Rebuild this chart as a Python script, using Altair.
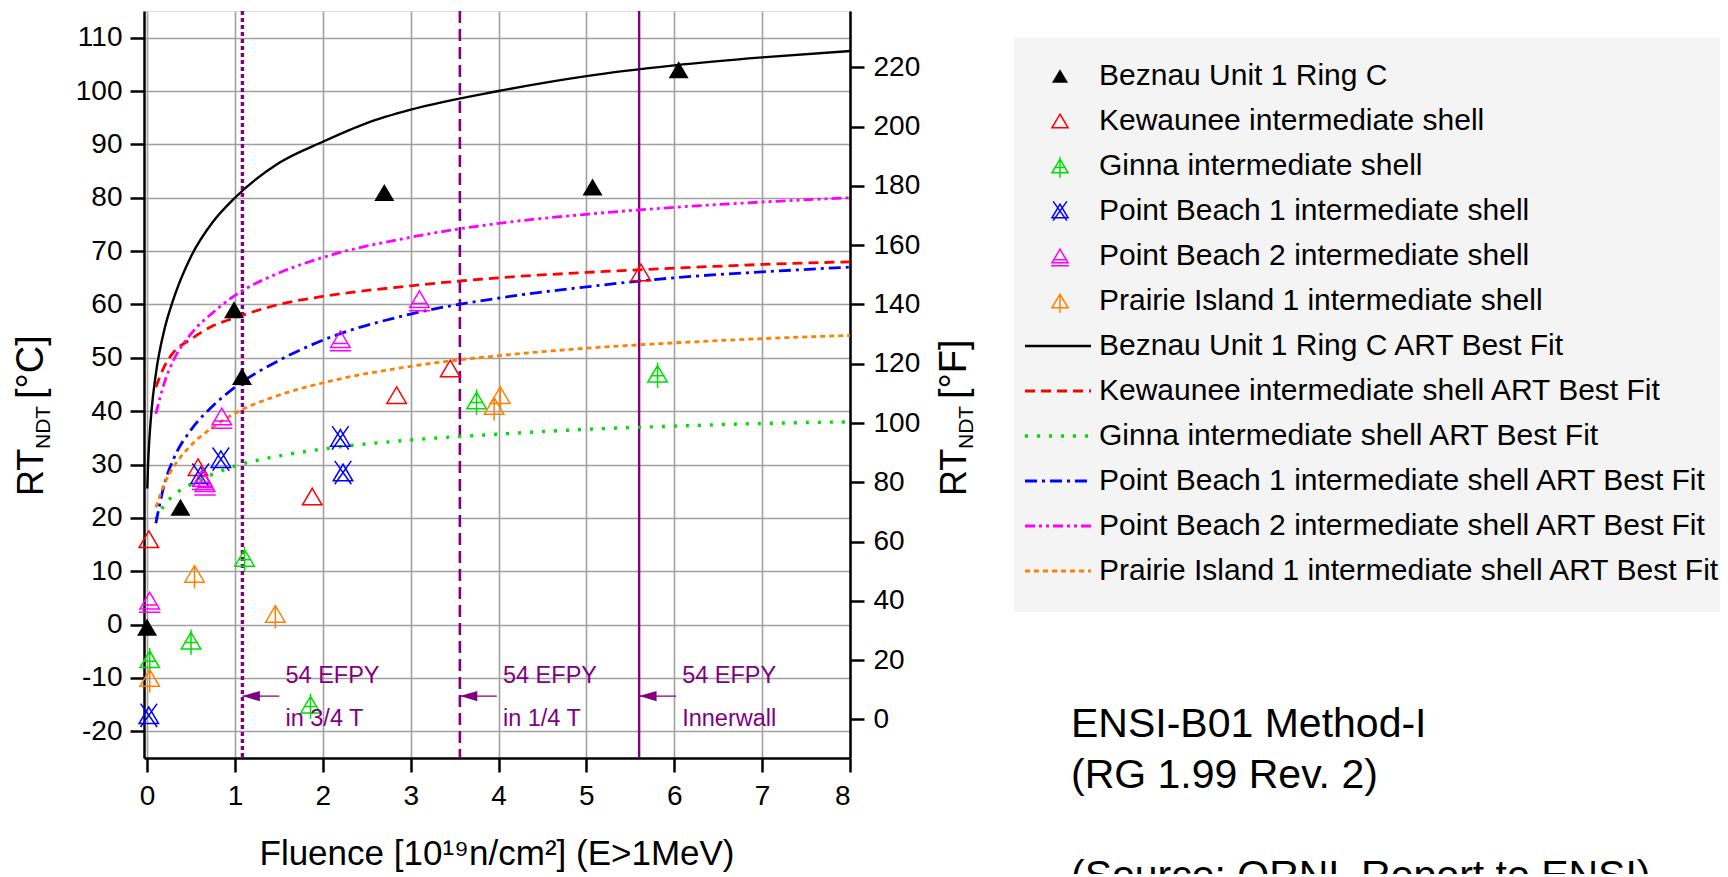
import altair as alt
import pandas as pd

FONT = "Liberation Sans"
PURPLE = "#800080"

# ---------------- data ----------------
series_names = [
    "Beznau Unit 1 Ring C",
    "Kewaunee intermediate shell",
    "Ginna intermediate shell",
    "Point Beach 1 intermediate shell",
    "Point Beach 2 intermediate shell",
    "Prairie Island 1 intermediate shell",
]
series_colors = ["#000000", "#ff0000", "#00dd00", "#0000ff", "#ff00ff", "#ff8000"]

beznau_x = [0.0, 0.38, 0.99, 1.08, 2.70, 5.07, 6.05]
beznau_c = [-0.5, 22, 59, 46.5, 81, 82, 104]
kewaunee_x = [0.02, 0.58, 1.88, 2.84, 3.45, 5.62]
kewaunee_c = [16, 29.5, 24, 43, 48, 66]
ginna_x = [0.03, 0.50, 1.11, 1.86, 3.75, 5.81]
ginna_c = [-6.5, -3, 12.5, -15, 42, 47]
pb1_x = [0.02, 0.61, 0.84, 2.20, 2.23]
pb1_c = [-17, 28, 31, 35, 28.5]
pb2_x = [0.03, 0.63, 0.66, 0.85, 2.20, 3.10]
pb2_c = [4.5, 27.5, 26.5, 39, 53.5, 61]
pi1_x = [0.03, 0.54, 1.46, 3.95, 4.02]
pi1_c = [-10, 9.5, 2, 41, 43]

# best-fit curves (read at these fluence values)
fit_x_beznau = [0.003, 0.01, 0.02, 0.05, 0.1, 0.2, 0.3, 0.5, 0.75, 1, 1.5, 2, 2.5, 3, 4, 5, 6, 7, 8]
fit_beznau = [25.5, 29.5, 33, 40, 47, 55.5, 61, 69, 75.5, 80, 86.5, 90.5, 94, 96.5, 100, 102.8, 104.8, 106.3, 107.5]
fit_x = [0.1, 0.2, 0.3, 0.5, 0.75, 1, 1.5, 2, 3, 4, 5, 6, 7, 8]
fit_kewaunee = [44.5, 48.5, 51, 53.5, 56, 57.5, 60, 61.5, 63.5, 65, 66, 66.8, 67.5, 68]
fit_ginna = [19.7, 22.5, 24.2, 26.3, 28.2, 29.7, 31.6, 32.9, 34.6, 35.7, 36.6, 37.2, 37.7, 38]
fit_pb1 = [19, 26.5, 31, 36.5, 41, 44.5, 49.5, 53.3, 58.2, 61.2, 63.3, 65, 66.1, 67]
fit_pb2 = [39.5, 45.5, 49.5, 54.5, 58.5, 61.7, 65.9, 68.8, 72.6, 75.2, 76.9, 78.2, 79.2, 80]
fit_pi1 = [22, 26.5, 29.5, 33.6, 37, 39.6, 43, 45.3, 48.4, 50.4, 51.8, 52.8, 53.6, 54.2]

fit_suffix = " ART Best Fit"

vline_x = [1.085, 3.56, 5.6]
vline_top = ["54 EFPY", "54 EFPY", "54 EFPY"]
vline_bottom = ["in 3/4 T", "in 1/4 T", "Innerwall"]

x_ticks = [0, 1, 2, 3, 4, 5, 6, 7, 8]
c_ticks = [-20, -10, 0, 10, 20, 30, 40, 50, 60, 70, 80, 90, 100, 110]
f_ticks = [0, 20, 40, 60, 80, 100, 120, 140, 160, 180, 200, 220]

note_lines = ["ENSI-B01 Method-I", "(RG 1.99 Rev. 2)"]
source_line = "(Source: ORNL  Report to ENSI)"

# ---------------- styling ----------------
W, H = 706, 747
X_DOM = [-0.035, 8]
C_DOM = [-25, 115]
F_DOM = [C_DOM[0] * 9 / 5 + 32, C_DOM[1] * 9 / 5 + 32]

TRI = "M0,-0.85L1,0.85L-1,0.85Z"
shapes = [
    TRI,
    TRI,
    TRI + "M0,-1.15L0,1.45M-0.7,0.2L0.7,0.2",
    TRI + "M-0.85,-1.2L0.85,1.2M0.85,-1.2L-0.85,1.2",
    TRI + "M-0.7,0.45L0.7,0.45M-1.1,1.2L1.1,1.2",
    TRI + "M0,-0.85L0,1.5",
]
dashes = [None, [10, 6], [3, 9], [12, 5, 3, 5], [10, 4, 3, 4, 3, 4], [5, 4]]
line_widths = [2.4, 2.8, 3.4, 2.8, 2.8, 2.8]
vline_dash = [[4, 3], [12, 6], None]
vline_width = [3.4, 2.6, 2.4]

xs = alt.Scale(domain=X_DOM, nice=False, zero=False)
cs = alt.Scale(domain=C_DOM, nice=False, zero=False)

axis_common = dict(
    labelFont=FONT, labelFontSize=28, labelColor="black",
    tickSize=14, tickWidth=2.5, tickColor="black",
    domainColor="black", domainWidth=2.5,
    gridColor="#a0a0a0", gridWidth=1.6, title=None,
    labelExpr="'' + datum.value",
)

layers = []

# axes + grid (carried by an invisible layer)
axis_df = pd.DataFrame({"x": [X_DOM[0], X_DOM[1]], "c": [C_DOM[0], C_DOM[1]]})
layers.append(
    alt.Chart(axis_df).mark_point(opacity=0).encode(
        x=alt.X("x:Q", scale=xs, axis=alt.Axis(values=x_ticks, grid=True, labelPadding=10, **axis_common)),
        y=alt.Y("c:Q", scale=cs, axis=alt.Axis(values=c_ticks, grid=True, labelPadding=8, **axis_common)),
    )
)

# vertical EFPY lines
for vx, dsh, lw in zip(vline_x, vline_dash, vline_width):
    kw = dict(color=PURPLE, strokeWidth=lw)
    if dsh:
        kw["strokeDash"] = dsh
    layers.append(
        alt.Chart(pd.DataFrame({"x": [vx]})).mark_rule(**kw).encode(x=alt.X("x:Q", scale=xs))
    )

# fit curves
fit_sets = [
    (fit_x_beznau, fit_beznau), (fit_x, fit_kewaunee), (fit_x, fit_ginna),
    (fit_x, fit_pb1), (fit_x, fit_pb2), (fit_x, fit_pi1),
]
for i, (fx, fy) in enumerate(fit_sets):
    kw = dict(color=series_colors[i], strokeWidth=line_widths[i], interpolate="monotone")
    if dashes[i]:
        kw["strokeDash"] = dashes[i]
    df = pd.DataFrame({"x": fx, "c": fy})
    layers.append(
        alt.Chart(df).mark_line(**kw).encode(
            x=alt.X("x:Q", scale=xs), y=alt.Y("c:Q", scale=cs), order="x:Q"
        )
    )

# measured points
pt_x = [beznau_x, kewaunee_x, ginna_x, pb1_x, pb2_x, pi1_x]
pt_c = [beznau_c, kewaunee_c, ginna_c, pb1_c, pb2_c, pi1_c]
rows = []
for name, px, pc in zip(series_names, pt_x, pt_c):
    for a, b in zip(px, pc):
        rows.append({"series": name, "x": a, "c": b})
pts = pd.DataFrame(rows)

layers.append(
    alt.Chart(pts[pts.series == series_names[0]]).mark_point(
        shape=TRI, filled=True, color="black", size=400, opacity=1
    ).encode(x=alt.X("x:Q", scale=xs), y=alt.Y("c:Q", scale=cs))
)
layers.append(
    alt.Chart(pts[pts.series != series_names[0]]).mark_point(
        filled=False, size=380, strokeWidth=1.5, opacity=1
    ).encode(
        x=alt.X("x:Q", scale=xs),
        y=alt.Y("c:Q", scale=cs),
        shape=alt.Shape("series:N", scale=alt.Scale(domain=series_names, range=shapes), legend=None),
        color=alt.Color("series:N", scale=alt.Scale(domain=series_names, range=series_colors), legend=None),
    )
)

# EFPY annotations
ann = pd.DataFrame({
    "x": vline_x,
    "xt": [v + 0.49 for v in vline_x],
    "xa": [v + 0.42 for v in vline_x],
    "xh": [v + 0.1 for v in vline_x],
    "top": vline_top,
    "bot": vline_bottom,
})
layers.append(
    alt.Chart(ann).mark_text(font=FONT, fontSize=23.5, color=PURPLE, align="left", baseline="middle").encode(
        x=alt.X("xt:Q", scale=xs), y=alt.datum(-9.6, scale=cs), text="top:N"
    )
)
layers.append(
    alt.Chart(ann).mark_text(font=FONT, fontSize=23.5, color=PURPLE, align="left", baseline="middle").encode(
        x=alt.X("xt:Q", scale=xs), y=alt.datum(-17.6, scale=cs), text="bot:N"
    )
)
layers.append(
    alt.Chart(ann).mark_rule(color=PURPLE, strokeWidth=1.4).encode(
        x=alt.X("x:Q", scale=xs), x2="xa:Q", y=alt.datum(-13.4, scale=cs)
    )
)
layers.append(
    alt.Chart(ann).mark_point(shape="M-1,0L1,-0.6L1,0.6Z", filled=True, color=PURPLE, size=300, opacity=1).encode(
        x=alt.X("xh:Q", scale=xs), y=alt.datum(-13.4, scale=cs)
    )
)

# axis titles (built from pieces for the subscript)
def title_piece(txt, size, px, py):
    return alt.Chart(pd.DataFrame({"t": [txt]})).mark_text(
        font=FONT, fontSize=size, color="black", angle=270, align="left", baseline="alphabetic"
    ).encode(text="t:N", x=alt.value(px), y=alt.value(py))

for base_x, unit in [(-101, "[°C]"), (822, "[°F]")]:
    layers.append(title_piece("RT", 36, base_x, 485))
    layers.append(title_piece("NDT", 21, base_x + 7, 438))
    layers.append(title_piece(unit, 38, base_x, 388))

layers.append(
    alt.Chart(pd.DataFrame({"t": ["Fluence [10¹⁹n/cm²] (E>1MeV)"]})).mark_text(
        font=FONT, fontSize=35, color="black", align="center", baseline="alphabetic"
    ).encode(text="t:N", x=alt.value(W / 2), y=alt.value(854))
)

# legend panel
LX0, LX1, LY0, LY1 = 870, 1577, 27, 601
layers.append(
    alt.Chart(pd.DataFrame({"a": [0]})).mark_rect(color="#f4f4f4").encode(
        x=alt.value(LX0), x2=alt.value(LX1), y=alt.value(LY0), y2=alt.value(LY1)
    )
)
ROW0, ROWH = 65, 45
for i, name in enumerate(series_names):
    yy = ROW0 + ROWH * i
    layers.append(
        alt.Chart(pd.DataFrame({"t": [name]})).mark_point(
            shape=shapes[i], filled=(i == 0), color=series_colors[i], size=260, strokeWidth=1.5, opacity=1
        ).encode(x=alt.value(916), y=alt.value(yy))
    )
    layers.append(
        alt.Chart(pd.DataFrame({"t": [name]})).mark_text(
            font=FONT, fontSize=30, color="black", align="left", baseline="middle"
        ).encode(text="t:N", x=alt.value(955), y=alt.value(yy))
    )
for i, name in enumerate(series_names):
    yy = ROW0 + ROWH * (i + 6)
    kw = dict(color=series_colors[i], strokeWidth=line_widths[i])
    if dashes[i]:
        kw["strokeDash"] = dashes[i]
    layers.append(
        alt.Chart(pd.DataFrame({"t": [name]})).mark_rule(**kw).encode(
            x=alt.value(881), x2=alt.value(947), y=alt.value(yy)
        )
    )
    layers.append(
        alt.Chart(pd.DataFrame({"t": [name + fit_suffix]})).mark_text(
            font=FONT, fontSize=30, color="black", align="left", baseline="middle"
        ).encode(text="t:N", x=alt.value(955), y=alt.value(yy))
    )

# notes
for j, line in enumerate(note_lines):
    layers.append(
        alt.Chart(pd.DataFrame({"t": [line]})).mark_text(
            font=FONT, fontSize=41, color="black", align="left", baseline="middle"
        ).encode(text="t:N", x=alt.value(927), y=alt.value(714 + 51 * j))
    )
layers.append(
    alt.Chart(pd.DataFrame({"t": [source_line]})).mark_text(
        font=FONT, fontSize=41, color="black", align="left", baseline="middle"
    ).encode(text="t:N", x=alt.value(927), y=alt.value(866))
)

main = alt.layer(*layers)

fahr = alt.Chart(pd.DataFrame({"f": F_DOM})).mark_point(opacity=0).encode(
    y=alt.Y(
        "f:Q",
        scale=alt.Scale(domain=F_DOM, nice=False, zero=False),
        axis=alt.Axis(values=f_ticks, orient="right", grid=False, labelPadding=9, **axis_common),
    )
)

chart = (
    alt.layer(main, fahr)
    .resolve_scale(y="independent")
    .properties(
        width=W,
        height=H,
        autosize=alt.AutoSizeParams(type="none"),
        padding={"left": 136, "top": 3, "right": 870, "bottom": 116},
        background="white",
    )
    .configure_view(stroke="black", strokeWidth=2.5)
    .configure(font=FONT)
)

chart.save("out.html", embed_options={"renderer": "svg", "actions": False})
